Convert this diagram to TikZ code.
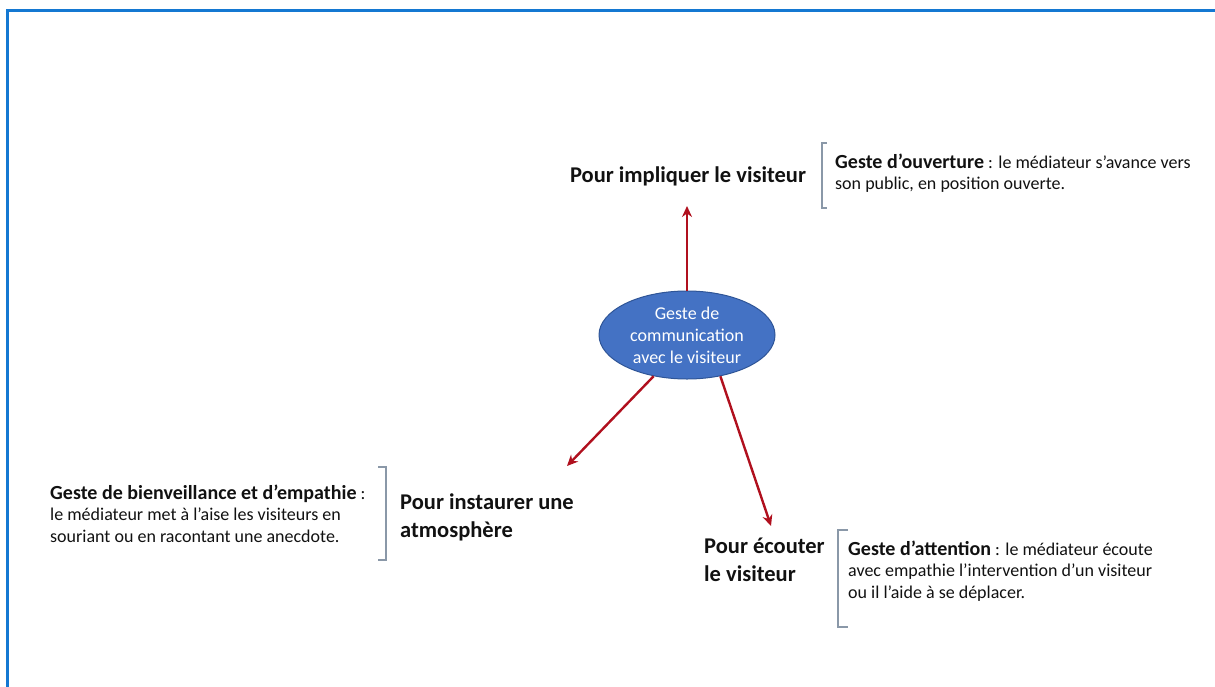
\documentclass[tikz,border=0pt]{standalone}
\usepackage{fontspec}
\setmainfont{Carlito}
\usetikzlibrary{arrows.meta,shapes.geometric}
\definecolor{frameblue}{HTML}{1478D2}
\definecolor{ellfill}{HTML}{4472C4}
\definecolor{elldraw}{HTML}{2F5597}
\definecolor{arrred}{HTML}{B0101E}
\definecolor{brgray}{HTML}{8A98A8}
\definecolor{txt}{HTML}{111111}
\newcommand{\bigb}[1]{{\fontsize{20}{21.5}\selectfont\bfseries #1}}
\tikzset{
  big/.style={inner sep=0pt, anchor=base west, align=left, text=txt,
    font=\fontsize{22.5}{27.5}\selectfont\bfseries},
  small/.style={inner sep=0pt, anchor=base west, align=left, text=txt,
    font=\fontsize{18}{21.5}\selectfont},
  arr/.style={draw=arrred, line width=2.4pt, -{Stealth[length=11pt,width=10pt]}},
  brk/.style={draw=brgray, line width=1.1pt},
}
\begin{document}
\begin{tikzpicture}[x=1pt,y=-1pt]
\useasboundingbox (0,0) rectangle (1215,686);
\clip (0,0) rectangle (1215,686);
\draw[frameblue, line width=3pt] (7,10) rectangle (1240,720);

\node[ellipse, fill=ellfill, draw=elldraw, line width=1pt, minimum width=176pt, minimum height=88pt, inner sep=0pt,
  text=white, align=center, font=\fontsize{18}{22}\selectfont] (c) at (687,335) {Geste de\\communication\\avec le visiteur};

\node[big, anchor=base] (t1) at (688,182) {Pour impliquer le visiteur};
\node[small] (d1) at (835,189.5) {\bigb{Geste d’ouverture} : le médiateur s’avance vers\\son public, en position ouverte.};
\draw[brk] (827,143) -- (822,143) -- (822,208) -- (827,208);

\node[big] (t2) at (400,537) {Pour instaurer une\\atmosphère};
\node[small] (d2) at (50,542) {\bigb{Geste de bienveillance et d’empathie} :\\le médiateur met à l’aise les visiteurs en\\souriant ou en racontant une anecdote.};
\draw[brk] (378,467) -- (386,467) -- (386,560) -- (378,560);

\node[big] (t3) at (704,581) {Pour écouter\\le visiteur};
\node[small] (d3) at (848,598) {\bigb{Geste d’attention} : le médiateur écoute\\avec empathie l’intervention d’un visiteur\\ou il l’aide à se déplacer.};
\draw[brk] (848,530) -- (838,530) -- (838,627) -- (848,627);

\coordinate (e1) at (687,206);
\coordinate (e2) at (567,466);
\coordinate (e3) at (771,526);
\draw[arr] (c.north) -- (e1);
\draw[arr] (c.231) -- (e2);
\draw[arr] (c.309) -- (e3);
\end{tikzpicture}
\end{document}
